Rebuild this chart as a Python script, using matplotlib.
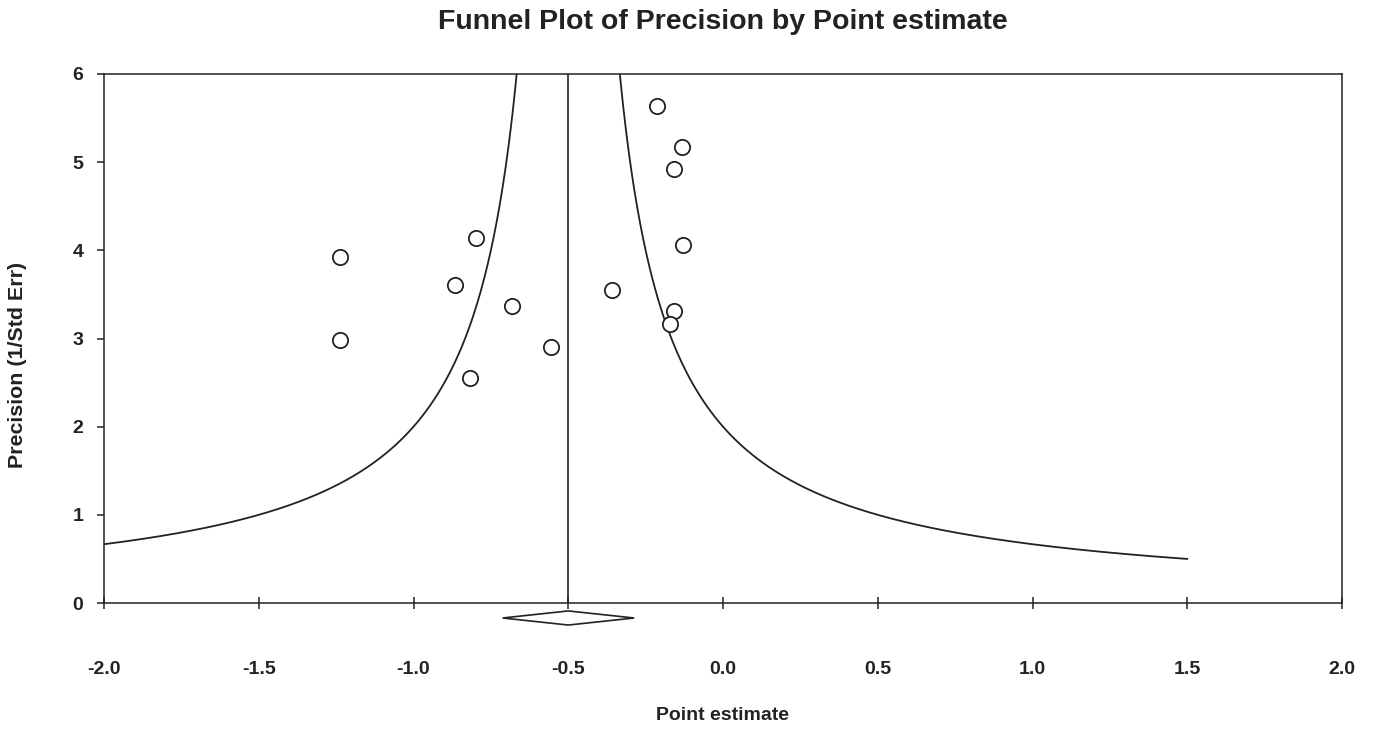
import numpy as np
import matplotlib
matplotlib.use("Agg")
import matplotlib.pyplot as plt
from matplotlib.patches import Polygon

plt.rcParams['font.family'] = ['Liberation Sans', 'DejaVu Sans']

# Study data (point estimate, precision)
point_estimate = [-0.213, -0.133, -0.158, -0.129, -0.359, -0.158, -0.171,
                  -1.237, -1.237, -0.798, -0.866, -0.682, -0.556, -0.817]
precision = [5.64, 5.17, 4.92, 4.06, 3.55, 3.31, 3.16,
             3.92, 2.98, 4.14, 3.61, 3.37, 2.90, 2.55]

summary_estimate = -0.5
summary_lo = -0.712
summary_hi = -0.287
funnel_const = 1.0

x_ticks = [-2.0, -1.5, -1.0, -0.5, 0.0, 0.5, 1.0, 1.5, 2.0]
y_ticks = [0, 1, 2, 3, 4, 5, 6]

ink = '#222222'

fig = plt.figure(figsize=(13.75, 7.33), dpi=100)
ax = fig.add_axes([104/1375, 1-603/733, (1342-104)/1375, (603-74)/733])
ax.set_xlim(-2, 2)
ax.set_ylim(0, 6)

# funnel curves
xl = np.linspace(-2.0, summary_estimate - funnel_const/6.3, 400)
ax.plot(xl, funnel_const/np.abs(xl - summary_estimate), color=ink, lw=1.3)
xr = np.linspace(summary_estimate + funnel_const/6.3, 1.5, 400)
ax.plot(xr, funnel_const/np.abs(xr - summary_estimate), color=ink, lw=1.3)

# vertical line at summary
ax.plot([summary_estimate, summary_estimate], [0, 6], color=ink, lw=1.2)

# points
ax.plot(point_estimate, precision, 'o', ms=11, mfc='white', mec=ink, mew=1.3, ls='none')

# summary diamond
dy_c, dh = -0.17, 0.08
diamond = Polygon([[summary_lo, dy_c], [summary_estimate, dy_c + dh],
                   [summary_hi, dy_c], [summary_estimate, dy_c - dh]],
                  closed=True, fill=False, edgecolor=ink, lw=1.2, clip_on=False)
ax.add_patch(diamond)

for s in ax.spines.values():
    s.set_color(ink)
    s.set_linewidth(1.1)

ax.set_xticks(x_ticks)
ax.set_xticklabels([f"{v:.1f}" for v in x_ticks])
ax.set_yticks(y_ticks)
ax.tick_params(axis='x', direction='inout', length=9, width=1.1, color=ink, pad=37.5,
               labelsize=14)
ax.tick_params(axis='y', direction='out', length=5, width=1.1, color=ink, pad=10,
               labelsize=14)
for lab in ax.get_xticklabels() + ax.get_yticklabels():
    lab.set_fontweight('bold')
    lab.set_color(ink)

fig.text(0.5 * (437 + 1008) / 1375, 1 - 22/733, "Funnel Plot of Precision by Point estimate",
         ha='center', va='center', fontsize=20.5, fontweight='bold', color=ink)
fig.text(722/1375, 1 - 716/733, "Point estimate", ha='center', va='center',
         fontsize=14, fontweight='bold', color=ink)
fig.text(18/1375, 1 - 365/733, "Precision (1/Std Err)", ha='center', va='center',
         rotation=90, fontsize=15.4, fontweight='bold', color=ink)

fig.savefig("out.png", dpi=100)
